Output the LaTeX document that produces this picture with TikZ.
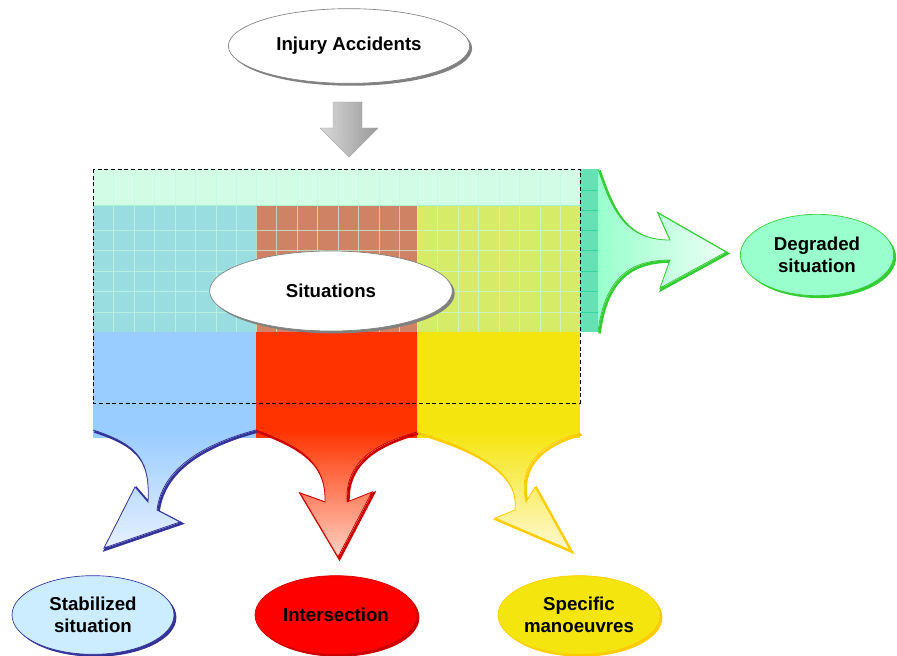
\documentclass[tikz,border=0pt]{standalone}
\usepackage{fontspec}
\setmainfont{Liberation Sans}
\usetikzlibrary{shapes.geometric,shadows}
\definecolor{bluefill}{HTML}{99CCFF}
\definecolor{blueline}{HTML}{333399}
\definecolor{blueell}{HTML}{CCECFF}
\definecolor{bluelight}{HTML}{E6F0FF}
\definecolor{redfill}{HTML}{FF3300}
\definecolor{redline}{HTML}{CC0000}
\definecolor{redell}{HTML}{FF0000}
\definecolor{redlight}{HTML}{FFD2C4}
\definecolor{yelfill}{HTML}{F5E50F}
\definecolor{yelline}{HTML}{FFCC00}
\definecolor{yellight}{HTML}{FFF8D2}
\definecolor{grnfill}{HTML}{99FFCC}
\definecolor{grnline}{HTML}{33CC33}
\definecolor{grnlight}{HTML}{EDFFF5}
\definecolor{bandfill}{HTML}{D2FCE6}
\definecolor{bandline}{HTML}{A0F5CC}
\definecolor{bluepat}{HTML}{99DDE0}
\definecolor{redpat}{HTML}{D08264}
\definecolor{yelpat}{HTML}{D6EC68}
\definecolor{strip}{HTML}{66E0B5}
\definecolor{stripline}{HTML}{33D8A0}
\definecolor{gridline}{HTML}{C4F8E2}
\begin{document}
\begin{tikzpicture}[x=0.75pt,y=-0.75pt,
  lbl/.style={font=\fontsize{14}{16.5}\selectfont\bfseries, align=center},
  ell/.style 2 args={ellipse, draw=#1, fill=#2, line width=0.5pt, inner sep=0pt,
     lbl, drop shadow={shadow xshift=1.8pt, shadow yshift=-1.8pt, fill=#1, opacity=1}},
  arrshadow/.style={draw=#1, line width=2pt, shift={(1.5,1.5)}},
  arroutline/.style={draw=#1, line width=0.6pt},
  gridln/.style={draw=gridline, line width=0.6pt, opacity=0.7}
]
\useasboundingbox (0,0) rectangle (897,656);

% top ellipse
\node[ell={gray}{white}, minimum width=181pt, minimum height=56pt] (acc) at (349,46) {Injury Accidents};

% gray down arrow
\shade[left color=gray!30, right color=gray!80, draw=gray!70, line width=0.3pt]
  (333,102) -- (362,102) -- (362,128) -- (378,128) -- (349,157) -- (320,128) -- (333,128) -- cycle;

% solid bars
\fill[bluefill] (93,205) rectangle (256,438);
\fill[redfill] (256,205) rectangle (417,438);
\fill[yelfill] (417,205) rectangle (580,438);

% patterned part
\fill[bandfill] (93,169) rectangle (580,205);
\fill[bluepat] (93,205) rectangle (256,332);
\fill[redpat] (256,205) rectangle (417,332);
\fill[yelpat] (417,205) rectangle (580,332);
\foreach \x in {113.5,134,154.5,175,195.5,216,236.5,256,276.5,297,317.5,338,358.5,379,399.5,417,437.5,458,478.5,499,519.5,540,560.5}
  \draw[gridln] (\x,169) -- (\x,332);
\foreach \y in {230,250.5,271,291.5,312}
  \draw[gridln] (93,\y) -- (580,\y);
\draw[bandline, line width=0.6pt] (93,205) -- (580,205);

% strip of degraded arrow
\fill[strip] (580,169) rectangle (598,332);
\foreach \y in {190,210,230,250.5,271,291.5,312}
  \draw[stripline, line width=0.6pt] (580,\y) -- (598,\y);

% degraded arrow
\def\degpath{(598,169) .. controls (612,210) and (625,240) .. (670,240) -- (658,213) -- (726,252) -- (660,288) -- (670,260) .. controls (632,260) and (605,276) .. (598,332)}
\draw[arrshadow=grnline] \degpath;
\shade[left color=grnfill, right color=grnlight] \degpath -- cycle;
\draw[arroutline=grnline] \degpath;

% bottom arrows
\def\bluepath{(93,430) .. controls (140,445) and (150,462) .. (148,502) -- (135,487) -- (104,548) -- (180,522) -- (157,510) .. controls (162,470) and (200,445) .. (256,430)}
\def\redpath{(256,430) .. controls (305,448) and (326,465) .. (325,502) -- (300,493) -- (338,557) -- (372,492) -- (347,502) .. controls (345,465) and (370,445) .. (417,432)}
\def\yelpath{(417,432) .. controls (470,448) and (520,470) .. (515,510) -- (495,518) -- (570,550) -- (535,487) -- (526,502) .. controls (518,470) and (535,445) .. (580,433)}

\draw[arrshadow=blueline] \bluepath;
\shade[top color=bluefill, bottom color=bluelight] \bluepath -- cycle;
\draw[arroutline=blueline] \bluepath;

\draw[arrshadow=redline] \redpath;
\shade[top color=redfill, bottom color=redlight] \redpath -- cycle;
\draw[arroutline=redline] \redpath;

\draw[arrshadow=yelline] \yelpath;
\shade[top color=yelfill, bottom color=yellight] \yelpath -- cycle;
\draw[arroutline=yelline] \yelpath;

% dashed frame
\draw[dashed, dash pattern=on 3pt off 2pt, line width=0.6pt] (93,169) rectangle (580,403);

% ellipses
\node[ell={gray}{white}, minimum width=182pt, minimum height=60pt] (sit) at (331,291) {Situations};
\node[ell={grnline}{grnfill}, minimum width=115pt, minimum height=61pt] (deg) at (817,255) {Degraded\\situation};
\node[ell={blueline}{blueell}, minimum width=121.5pt, minimum height=59pt] (stab) at (93,615) {Stabilized\\situation};
\node[ell={redline}{redell}, minimum width=121.5pt, minimum height=59pt] (inter) at (336,615) {Intersection};
\node[ell={yelline}{yelfill}, minimum width=121.5pt, minimum height=59pt] (spec) at (579,615) {Specific\\manoeuvres};
\end{tikzpicture}
\end{document}
